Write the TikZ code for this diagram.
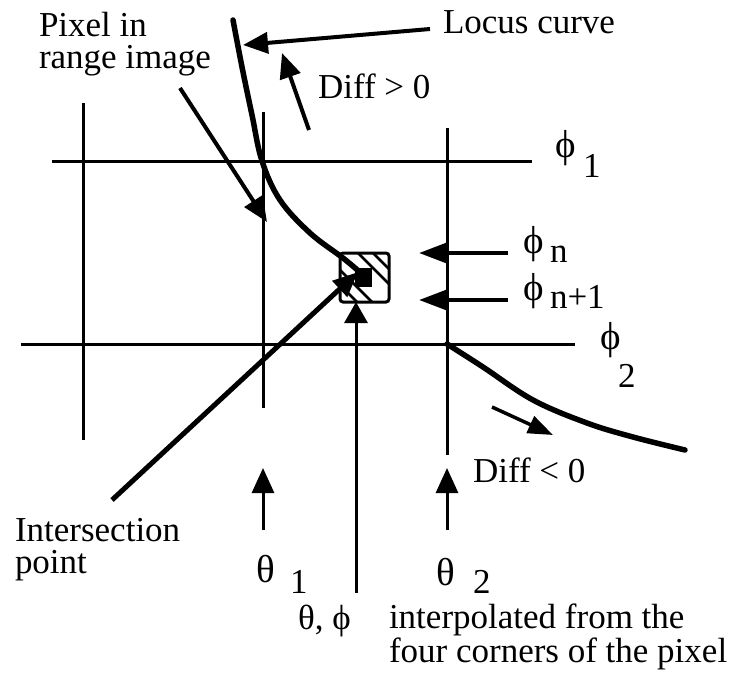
\documentclass[tikz,border=0pt]{standalone}
\usepackage{fontspec}
\setmainfont{Liberation Serif}
\usetikzlibrary{arrows.meta}
\begin{document}
\begin{tikzpicture}[x=1pt,y=-1pt,
  lbl/.style={inner sep=0pt,outer sep=0pt,font=\fontsize{35}{32}\selectfont,anchor=base west},
  multi/.style={lbl,align=left},
  sym/.style={inner sep=0pt,outer sep=0pt,font=\fontsize{39}{33}\selectfont,anchor=center},
  gridline/.style={line width=3pt},
  locus/.style={line width=5.5pt,line cap=round},
  arr/.style={line width=4pt,-{Triangle[length=25pt,width=21pt]}},
  thinarr/.style={line width=3pt,-{Triangle[length=25pt,width=22pt]}},
]
\useasboundingbox (0,0) rectangle (739,681);

% grid
\coordinate (h1a) at (52,161);  \coordinate (h1b) at (532,161);
\coordinate (h2a) at (21,344);  \coordinate (h2b) at (575,344);
\coordinate (v1a) at (83,103);  \coordinate (v1b) at (83,440);
\coordinate (v2a) at (263,112); \coordinate (v2b) at (263,408);
\coordinate (v3a) at (447,128); \coordinate (v3b) at (447,455);
\draw[gridline] (h1a) -- (h1b);
\draw[gridline] (h2a) -- (h2b);
\draw[gridline] (v1a) -- (v1b);
\draw[gridline] (v2a) -- (v2b);
\draw[gridline] (v3a) -- (v3b);

% pixel box with hatching
\coordinate (boxa) at (340,253); \coordinate (boxb) at (389,302);
\begin{scope}
  \clip (boxa) rectangle (boxb);
  \draw[line width=2.5pt] (330,225) -- (400,295);
  \draw[line width=2.5pt] (330,210) -- (400,280);
  \draw[line width=2.5pt] (330,260) -- (400,330);
  \draw[line width=2.5pt] (330,275) -- (400,345);
\end{scope}
\fill (355,268) rectangle (372,287);
\draw[line width=3pt,rounded corners=3pt] (boxa) rectangle (boxb);

% locus curve
\draw[locus] plot[smooth,tension=0.6] coordinates {(233,20) (242,67) (252,115) (262,161) (280,200) (310,233) (343,258) (362,274)};
\draw[locus] plot[smooth,tension=0.6] coordinates {(447,344) (483,367) (533,400) (587,423) (633,437) (685,450)};

% labels
\node[multi] (pix) at (39,68) {Pixel in\\range image};
\node[lbl] (locuslbl) at (443,33) {Locus curve};
\node[lbl] (dgt) at (318,98) {Diff > 0};
\node[lbl] (dlt) at (473,482) {Diff < 0};
\node[multi] (int) at (15,573) {Intersection\\point};
\node[sym] (phi1) at (566,148) {ϕ};
\node[lbl] (phi1s) at (583,177) {1};
\node[sym] (phi2) at (611,340) {ϕ};
\node[lbl] (phi2s) at (618,387) {2};
\node[sym] (phin) at (534,244) {ϕ};
\node[lbl] (phins) at (550,262) {n};
\node[sym] (phinn) at (534,291) {ϕ};
\node[lbl] (phinns) at (550,308) {n+1};
\node[sym] (th1) at (266,569) {θ};
\node[lbl] (th1s) at (290,593) {1};
\node[sym] (th2) at (446,572) {θ};
\node[lbl] (th2s) at (473,593) {2};
\node[lbl] (thphi) at (298,629) {θ, ϕ};
\node[multi] (interp) at (389,662) {interpolated from the\\four corners of the pixel};

% connector end points
\coordinate (locusT) at (430,29);   \coordinate (locusH) at (243,45);
\coordinate (dgtT) at (309,130);    \coordinate (dgtH) at (282,53);
\coordinate (pixT) at (180,88);     \coordinate (pixH) at (267,222);
\coordinate (intT) at (112,500);    \coordinate (intH) at (358,272);
\coordinate (tpT) at (356,593);     \coordinate (tpH) at (356,302);
\coordinate (t1T) at (263,530);     \coordinate (t1H) at (263,468);
\coordinate (t2T) at (447,530);     \coordinate (t2H) at (447,468);
\coordinate (pnT) at (508,253);     \coordinate (pnH) at (419,253);
\coordinate (pnnT) at (508,300);    \coordinate (pnnH) at (419,300);
\coordinate (dltT) at (492,407);    \coordinate (dltH) at (553,435);

\draw[arr] (locusT) -- (locusH);
\draw[arr] (dgtT) -- (dgtH);
\draw[arr] (pixT) -- (pixH);
\draw[arr,line width=5pt] (intT) -- (intH);
\draw[thinarr,-{Triangle[length=21pt,width=23pt]}] (tpT) -- (tpH);
\draw[thinarr] (t1T) -- (t1H);
\draw[thinarr] (t2T) -- (t2H);
\draw[arr,-{Triangle[length=28pt,width=20pt]}] (pnT) -- (pnH);
\draw[arr,-{Triangle[length=28pt,width=20pt]}] (pnnT) -- (pnnH);
\draw[arr,line width=3.5pt,-{Triangle[length=25pt,width=18pt]}] (dltT) -- (dltH);
\end{tikzpicture}
\end{document}
